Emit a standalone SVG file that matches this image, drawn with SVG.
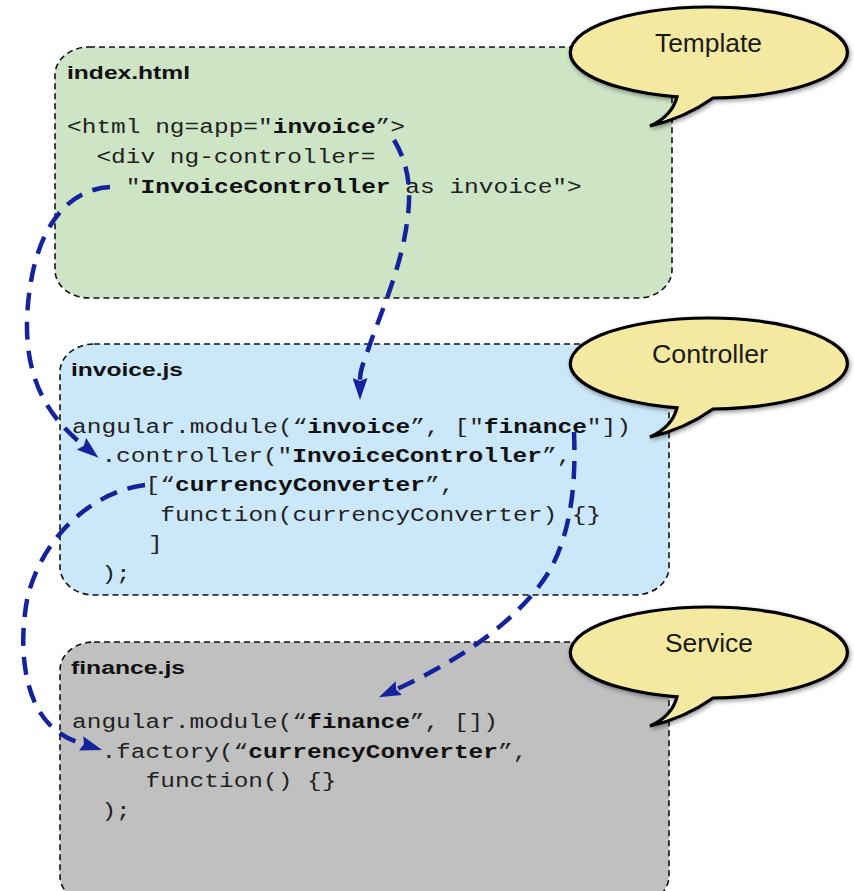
<svg xmlns="http://www.w3.org/2000/svg" width="854" height="891" viewBox="0 0 854 891">
<style>
.box{stroke:#111;stroke-width:1.6;stroke-dasharray:6 4}
.hdr{font-family:"Liberation Sans",Arial,sans-serif;font-weight:bold;font-size:18px;fill:#111}
.code{font-family:"Liberation Mono","Courier New",monospace;font-size:20px;fill:#222}
.b{font-weight:bold;fill:#111}
.lbl{font-family:"Liberation Sans",Arial,sans-serif;font-size:25px;fill:#1a1a1a}
.bub{fill:#f4e9a1;stroke:#000;stroke-width:3.2;filter:url(#sh)}
.con{fill:none;stroke:#14239c;stroke-width:4.5;stroke-dasharray:18 11;marker-end:url(#ah)}
</style>
<defs>
<filter id="sh" x="-10%" y="-10%" width="130%" height="140%">
<feDropShadow dx="1.5" dy="2" stdDeviation="2" flood-color="#000" flood-opacity="0.4"/>
</filter>
<marker id="ah" markerUnits="userSpaceOnUse" markerWidth="22" markerHeight="15" viewBox="0 0 22 15" refX="2" refY="7.5" orient="auto">
<path d="M0,0 L22,7.5 L0,15 L3,7.5 Z" fill="#14239c"/>
</marker>
<path id="bubble" d="M677,96.8 A138.5 45.5 0 1 1 713,98 Q685,118 650,126 Q672,116 677,96.8 Z"/>
</defs>

<g id="template-box">
<rect class="box" x="55" y="47" width="617" height="251" rx="34" ry="28" fill="#cde4c5"/>
<text class="hdr" x="67" y="79" textLength="123" lengthAdjust="spacingAndGlyphs">index.html</text>
<text class="code" x="67" y="133" textLength="338" lengthAdjust="spacingAndGlyphs">&lt;html ng=app="<tspan class="b">invoice</tspan>”&gt;</text>
<text class="code" x="96.4" y="163" textLength="279" lengthAdjust="spacingAndGlyphs">&lt;div ng-controller=</text>
<text class="code" x="125.8" y="193" textLength="456" lengthAdjust="spacingAndGlyphs">"<tspan class="b">InvoiceController</tspan> as invoice"&gt;</text>
</g>

<g id="controller-box">
<rect class="box" x="60" y="344" width="609" height="251" rx="34" ry="28" fill="#cbe8fa"/>
<text class="hdr" x="71" y="376" textLength="112" lengthAdjust="spacingAndGlyphs">invoice.js</text>
<text class="code" x="72" y="433" textLength="559" lengthAdjust="spacingAndGlyphs">angular.module(“<tspan class="b">invoice</tspan>”, ["<tspan class="b">finance</tspan>"])</text>
<text class="code" x="101.4" y="462" textLength="470" lengthAdjust="spacingAndGlyphs">.controller("<tspan class="b">InvoiceController</tspan>”,</text>
<text class="code" x="145.5" y="491" textLength="309" lengthAdjust="spacingAndGlyphs">[“<tspan class="b">currencyConverter</tspan>”,</text>
<text class="code" x="160.2" y="521" textLength="441" lengthAdjust="spacingAndGlyphs">function(currencyConverter) {}</text>
<text class="code" x="148" y="550" textLength="14.7" lengthAdjust="spacingAndGlyphs">]</text>
<text class="code" x="101.4" y="580" textLength="29.4" lengthAdjust="spacingAndGlyphs">);</text>
</g>

<g id="service-box">
<rect class="box" x="60" y="642" width="609" height="262" rx="34" ry="28" fill="#c0c0c0"/>
<text class="hdr" x="71" y="674" textLength="114" lengthAdjust="spacingAndGlyphs">finance.js</text>
<text class="code" x="72" y="728" textLength="426" lengthAdjust="spacingAndGlyphs">angular.module(“<tspan class="b">finance</tspan>”, [])</text>
<text class="code" x="101.4" y="758" textLength="426" lengthAdjust="spacingAndGlyphs">.factory(“<tspan class="b">currencyConverter</tspan>”,</text>
<text class="code" x="145.5" y="787" textLength="191" lengthAdjust="spacingAndGlyphs">function() {}</text>
<text class="code" x="101.4" y="817" textLength="29.4" lengthAdjust="spacingAndGlyphs">);</text>
</g>

<g id="template-bubble">
<use href="#bubble" class="bub"/>
<text class="lbl" x="655" y="52" textLength="107" lengthAdjust="spacingAndGlyphs">Template</text>
</g>
<g id="controller-bubble" transform="translate(0,311)">
<use href="#bubble" class="bub"/>
<text class="lbl" x="652" y="52" textLength="116" lengthAdjust="spacingAndGlyphs">Controller</text>
</g>
<g id="service-bubble" transform="translate(0,600)">
<use href="#bubble" class="bub"/>
<text class="lbl" x="665" y="52" textLength="88" lengthAdjust="spacingAndGlyphs">Service</text>
</g>

<g id="connectors">
<path class="con" d="M394,140 C412,170 412,200 404,240 C396,280 378,320 368,350 C362,366 360,372 360,380"/>
<path class="con" d="M110,187 C60,190 30,240 27,320 C26,370 40,410 83,445"/>
<path class="con" d="M145,485 C90,492 40,540 27,600 C18,650 25,700 50,725 C60,735 70,740 83,744"/>
<path class="con" d="M574,432 C576,480 572,530 550,570 C520,620 460,660 397,689"/>
</g>
</svg>
